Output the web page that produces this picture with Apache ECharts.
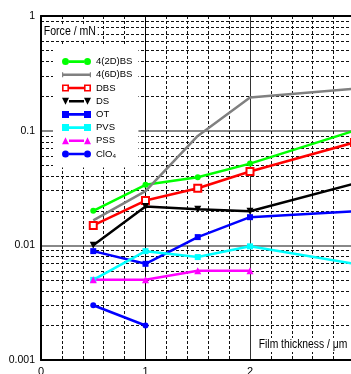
<!DOCTYPE html>
<html><head><meta charset="utf-8">
<script src="https://cdn.jsdelivr.net/npm/echarts@6/dist/echarts.min.js"></script>
<style>html,body{margin:0;padding:0;background:#fff;overflow:hidden}#c{width:351px;height:374px}</style>
</head><body><div id="c"></div>
<script>
const FONT = 'Arial,"Liberation Sans",sans-serif';
const thickness = [0.5, 1, 1.5, 2, 3];
const names = ['4(2D)BS', '4(6D)BS', 'DBS', 'DS', 'OT', 'PVS', 'PSS', 'ClO₄'];
const f42DBS = [0.020, 0.0337, 0.0393, 0.0516, 0.100];
const f46DBS = [0.0165, 0.0297, 0.090, 0.195, 0.232];
const fDBS = [0.0149, 0.0246, 0.0315, 0.044, 0.079];
const fDS = [0.0100, 0.0218, 0.0206, 0.0198, 0.0346];
const fOT = [0.0089, 0.0069, 0.0118, 0.0176, 0.0198];
const fPVS = [0.0050, 0.0089, 0.0079, 0.0098, 0.0069];
const fPSS = [0.0050, 0.0050, 0.0060, 0.0060];
const fClO4 = [0.0030, 0.0020];
const yName = 'Force / mN';
const xName = 'Film thickness / μm';

const icons = {
  circle: 'path://M0,3.5a3.5,3.5 0 1,0 7,0a3.5,3.5 0 1,0 -7,0Z M22,3.5a3.5,3.5 0 1,0 7,0a3.5,3.5 0 1,0 -7,0Z M7,2.2H22V4.8H7Z',
  plain: 'path://M0,1H1.2V6H0Z M27.8,1H29V6H27.8Z M1.2,2.2H27.8V4.8H1.2Z',
  square: 'path://M0,0H7V7H0Z M22,0H29V7H22Z M7,2.2H22V4.8H7Z',
  hollow: 'path://M0,0H7V7H0Z M1.6,1.6V5.4H5.4V1.6Z M22,0H29V7H22Z M23.6,1.6V5.4H27.4V1.6Z M7,2.2H22V4.8H7Z',
  triDown: 'path://M0,0H7L3.5,7Z M22,0H29L25.5,7Z M7,2.2H22V4.8H7Z',
  triUp: 'path://M3.5,0L7,7H0Z M25.5,0L29,7H22Z M7,2.2H22V4.8H7Z'
};

const defs = [
  {name: names[0], vals: f42DBS, color: '#00ff00', symbol: 'circle', size: 6, icon: icons.circle},
  {name: names[1], vals: f46DBS, color: '#808080', symbol: 'none', size: 0, icon: icons.plain},
  {name: names[2], vals: fDBS, color: '#ff0000', symbol: 'emptyRect', size: 7, icon: icons.hollow},
  {name: names[3], vals: fDS, color: '#000000', symbol: 'triangle', size: 7, rot: 180, icon: icons.triDown},
  {name: names[4], vals: fOT, color: '#0000ff', symbol: 'rect', size: 6, icon: icons.square},
  {name: names[5], vals: fPVS, color: '#00ffff', symbol: 'rect', size: 6, icon: icons.square},
  {name: names[6], vals: fPSS, color: '#ff00ff', symbol: 'triangle', size: 7, icon: icons.triUp},
  {name: names[7], vals: fClO4, color: '#0000ff', symbol: 'circle', size: 6, icon: icons.circle}
];

const series = defs.map(d => ({
  type: 'line', name: d.name, xAxisIndex: 0,
  data: d.vals.map((v, i) => [thickness[i], v]),
  symbol: d.symbol, symbolSize: d.size, symbolRotate: d.rot || 0,
  showSymbol: d.symbol !== 'none',
  lineStyle: {color: d.color, width: 2.5},
  itemStyle: {color: d.color, borderColor: d.color, borderWidth: d.symbol === 'emptyRect' ? 1.6 : 0},
  emphasis: {disabled: true},
  silent: true
}));

const chart = echarts.init(document.getElementById('c'), null, {renderer: 'canvas'});
chart.setOption({
  animation: false,
  backgroundColor: '#fff',
  grid: {left: 41, top: 16, bottom: 14, right: -3.5, outerBoundsMode: 'none', containLabel: false},
  xAxis: [{
    type: 'value', min: 0, max: 3, interval: 1,
    axisLine: {show: true, onZero: false, lineStyle: {color: '#000', width: 2}},
    axisTick: {show: false},
    axisLabel: {fontFamily: FONT, fontSize: 11, color: '#000', margin: 6, showMaxLabel: false},
    splitLine: {show: true, lineStyle: {color: ['#000', '#000', '#333', '#333'], width: 1}},
    minorTick: {show: false, splitNumber: 5},
    minorSplitLine: {show: true, lineStyle: {color: '#111', width: 1, type: [3, 2]}}
  }, {
    type: 'value', position: 'top', min: 0, max: 3, interval: 1,
    axisLine: {show: true, onZero: false, lineStyle: {color: '#000', width: 2}},
    axisTick: {show: false}, axisLabel: {show: false}, splitLine: {show: false}
  }],
  yAxis: {
    type: 'log', logBase: 10, min: 0.001, max: 1,
    axisLine: {show: true, onZero: false, lineStyle: {color: '#000', width: 2}},
    axisTick: {show: false},
    axisLabel: {fontFamily: FONT, fontSize: 10.5, color: '#000', margin: 6,
      formatter: v => String(Number(v.toPrecision(3)))},
    splitLine: {show: true, lineStyle: {color: ['#000', '#888', '#888', 'rgba(0,0,0,0)'], width: 2}},
    minorTick: {show: false, splitNumber: 9},
    minorSplitLine: {show: true, lineStyle: {color: '#111', width: 1, type: [3, 2]}}
  },
  legend: {
    orient: 'vertical', left: 53, top: 45,
    itemWidth: 29, itemHeight: 7, itemGap: 0,
    padding: [10, 6, 7, 9],
    backgroundColor: '#fff',
    selectedMode: false,
    itemStyle: {borderWidth: 0},
    textStyle: {fontFamily: FONT, fontSize: 9.5, lineHeight: 13.2, color: '#000'},
    data: defs.map(d => ({name: d.name, icon: d.icon}))
  },
  graphic: [
    {type: 'text', left: 42, top: 25, z: 50, scaleX: 0.88,
      style: {text: yName, font: '12px ' + FONT, fill: '#000', backgroundColor: '#fff', padding: [1, 2]}},
    {type: 'text', right: 2, top: 338, z: 50, scaleX: 0.86, originX: 0,
      style: {text: xName, font: '12px ' + FONT, fill: '#000', backgroundColor: '#fff', padding: [1, 2]}}
  ],
  series: series
});
</script>
</body></html>
